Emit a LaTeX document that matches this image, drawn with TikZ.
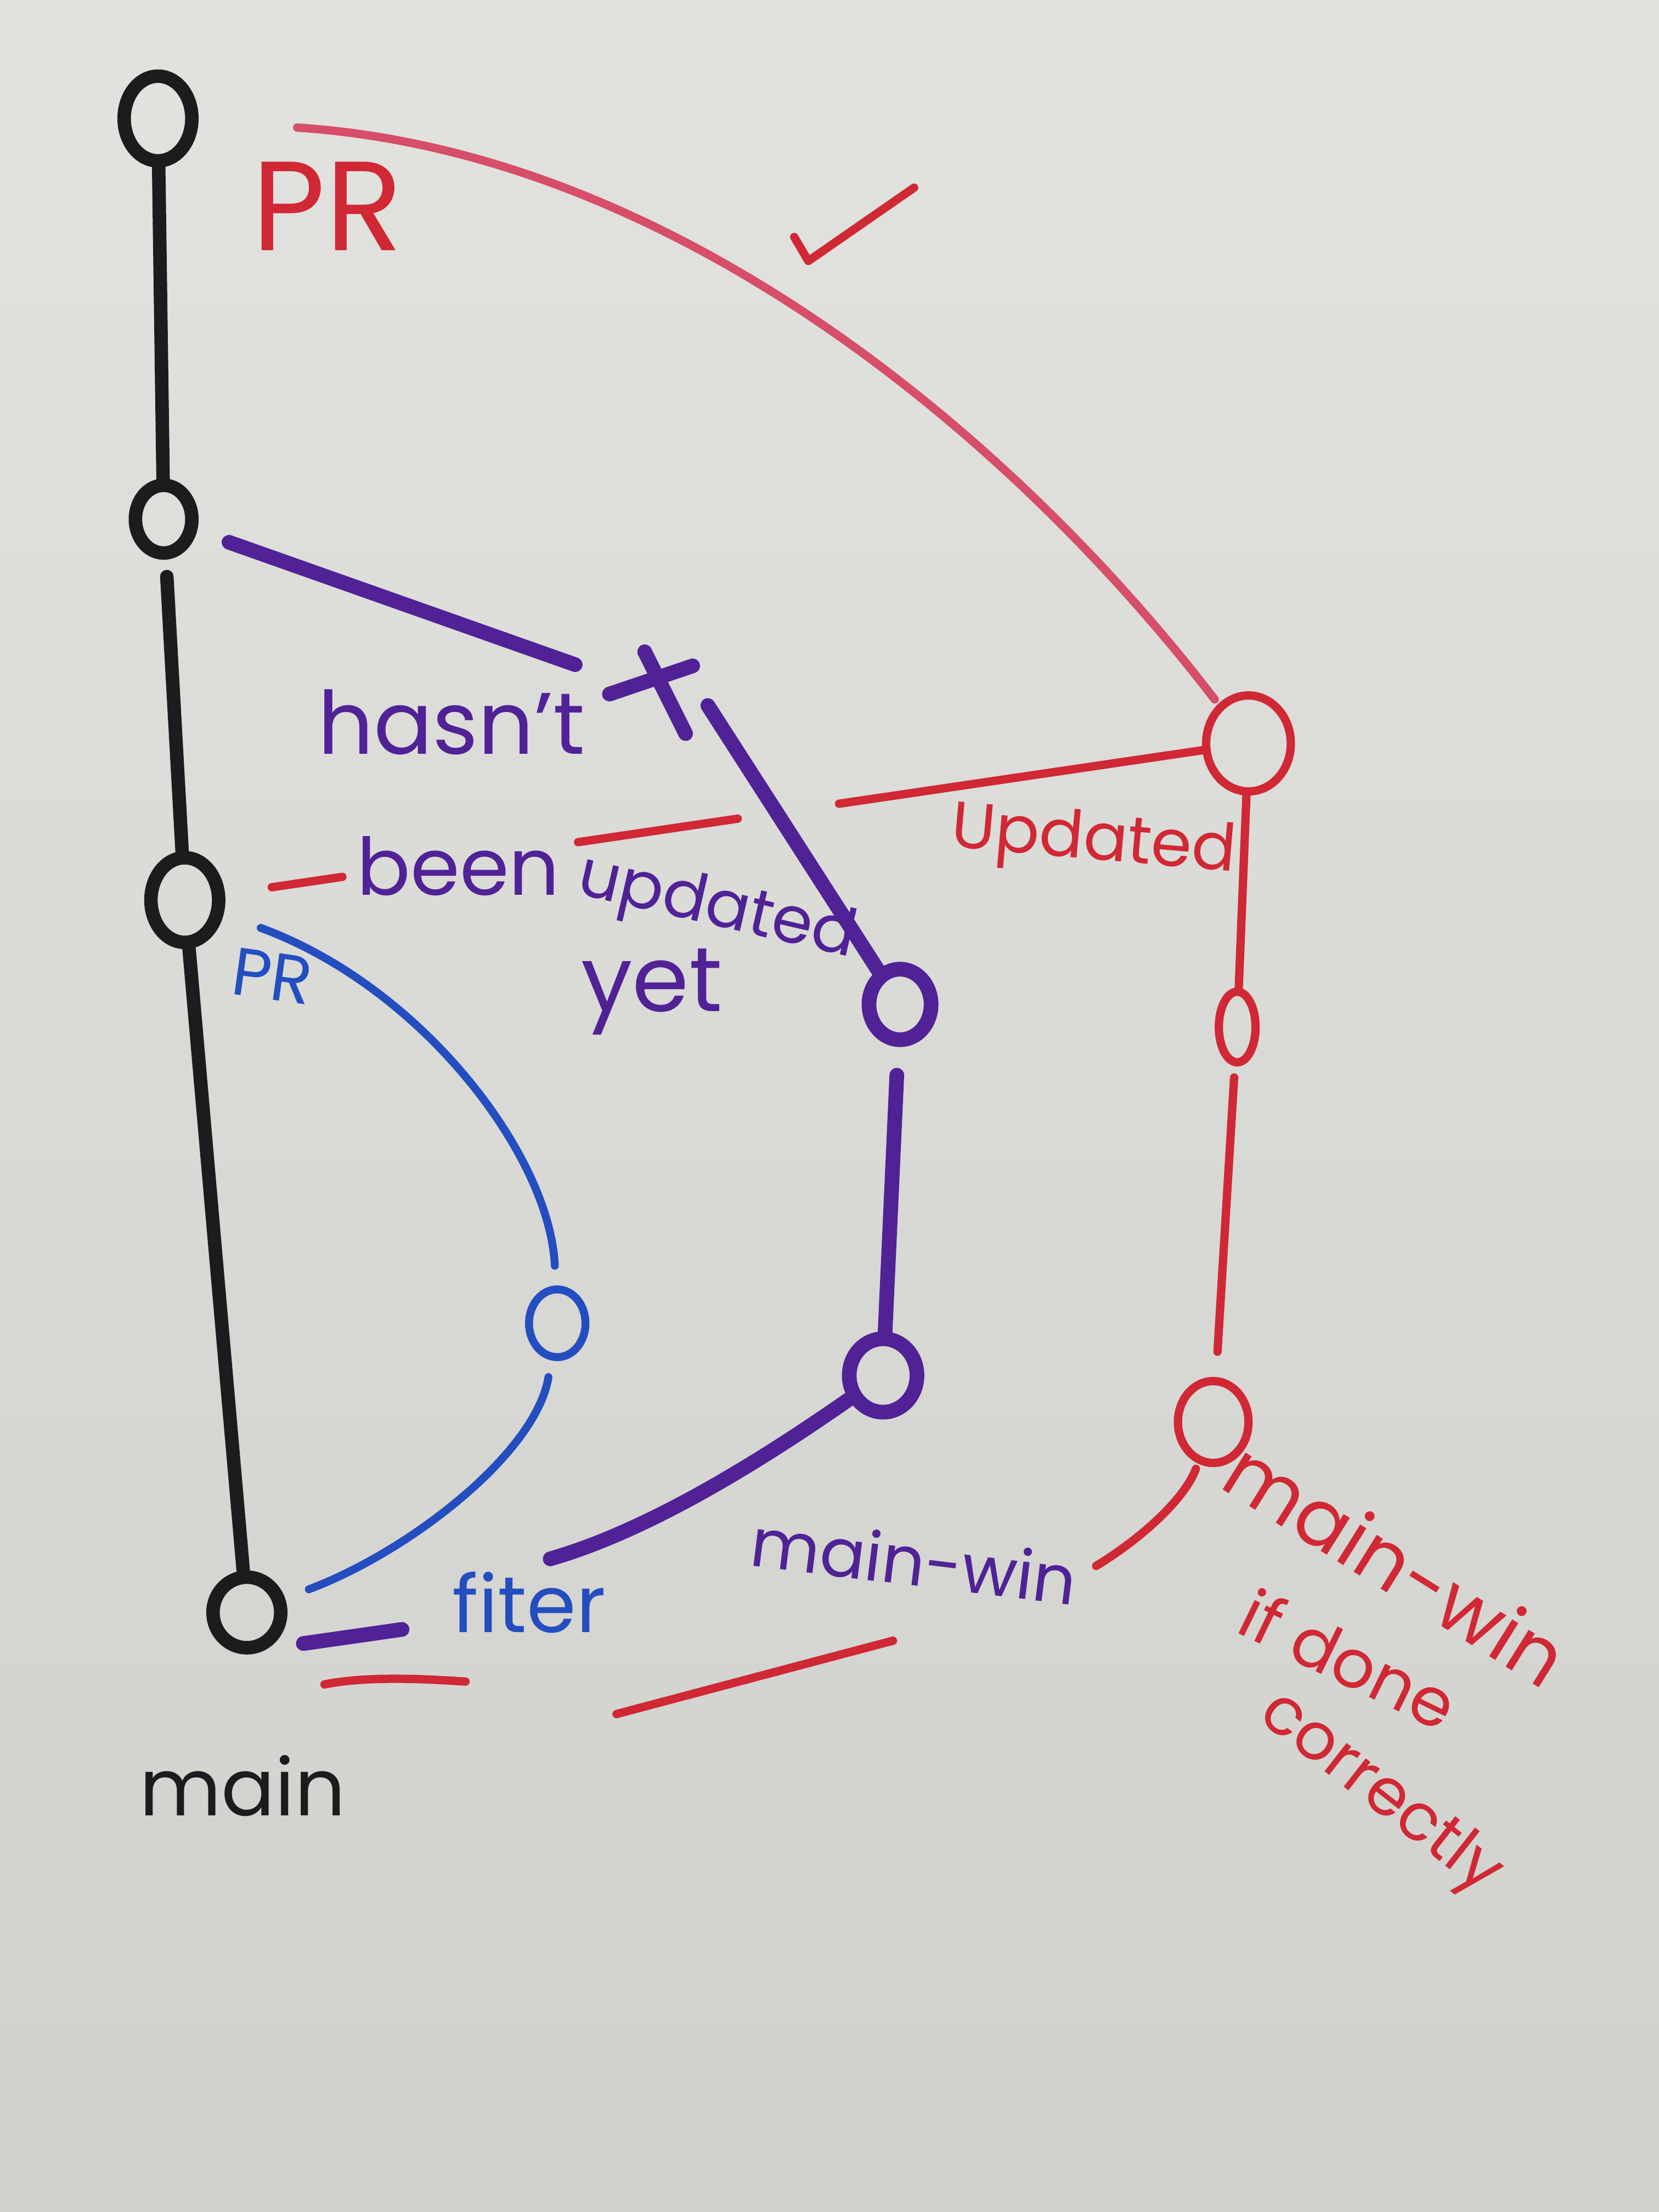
\documentclass[tikz,border=0pt]{standalone}
\usepackage{fontspec}
\setmainfont{Poppins}
\usetikzlibrary{shapes.geometric}
\definecolor{boardtop}{RGB}{226,226,223}
\definecolor{boardbot}{RGB}{208,208,204}
\definecolor{mblack}{RGB}{28,28,30}
\definecolor{mred}{RGB}{208,40,52}
\definecolor{mpink}{RGB}{214,78,104}
\definecolor{mpurple}{RGB}{80,34,150}
\definecolor{mblue}{RGB}{36,78,192}
\begin{document}
\begin{tikzpicture}[x=0.025cm,y=-0.025cm,line cap=round,line join=round,
  commit/.style={ellipse,draw,inner sep=0pt},
  blk/.style={draw=mblack,line width=6.8pt},
  redl/.style={draw=mred,line width=4.2pt},
  pinkl/.style={draw=mpink,line width=4.2pt},
  purl/.style={draw=mpurple,line width=7.4pt},
  blul/.style={draw=mblue,line width=4pt},
  hand/.style={font=\fontsize{#1pt}{#1pt}\selectfont,inner sep=0pt}]
% board
\shade[top color=boardtop,bottom color=boardbot] (0,0) rectangle (1176,1568);
\useasboundingbox (0,0) rectangle (1176,1568);

% black commits (main)
\node[commit,blk,minimum width=1.2cm,minimum height=1.5cm] (n1) at (112,84) {};
\node[commit,blk,minimum width=1.0cm,minimum height=1.2cm] (n2) at (116,368) {};
\node[commit,blk,minimum width=1.2cm,minimum height=1.5cm] (n3) at (131,638) {};
\node[commit,blk,minimum width=1.2cm,minimum height=1.25cm] (n4) at (175,1143) {};
\draw[blk] (n1) -- (n2);
\draw[blk,shorten <=0.3cm] (n2) -- (n3);
\draw[blk] (n3) -- (n4);

% red commits
\node[commit,redl,minimum width=1.5cm,minimum height=1.7cm] (r1) at (885,527) {};
\node[commit,redl,minimum width=0.65cm,minimum height=1.25cm] (r2) at (877,728) {};
\node[commit,redl,minimum width=1.25cm,minimum height=1.45cm] (r3) at (860,1008) {};
\draw[redl] (r1) -- (r2);
\draw[redl,shorten <=0.2cm,shorten >=0.45cm] (r2) -- (r3);

% purple commits
\node[commit,purl,minimum width=1.1cm,minimum height=1.25cm] (p1) at (638,712) {};
\node[commit,purl,minimum width=1.2cm,minimum height=1.3cm] (p2) at (626,975) {};
\node[draw=none,minimum size=1.75cm,inner sep=0pt] (xm) at (460,490) {};
\draw[purl] (432,492) -- (491,472);
\draw[purl] (457,462) -- (486,520);
\draw[purl,shorten <=0.6cm,shorten >=0.45cm] (n2) -- (xm.160);
\draw[purl,shorten <=0.3cm] (xm.east) -- (p1);
\draw[purl,shorten <=0.5cm] (p1) -- (p2);
\coordinate (pm1) at (390,1105);
\coordinate (pm2) at (285,1155);
\coordinate (pm3) at (215,1165);
\draw[purl] (p2) .. controls (540,1035) and (460,1085) .. (pm1);
\draw[purl] (pm2) -- (pm3);

% blue commit
\node[commit,blul,minimum width=1.0cm,minimum height=1.2cm] (b1) at (395,938) {};
\draw[blul,shorten <=0.7cm,shorten >=0.35cm] (n3) .. controls (300,700) and (390,820) .. (b1);
\draw[blul,shorten <=0.3cm,shorten >=0.45cm] (b1) .. controls (380,1030) and (290,1100) .. (n4);

% red connectors
\draw[pinkl,shorten <=1.75cm,shorten >=0.1cm] (n1) .. controls (480,108) and (720,312) .. (r1);
\draw[redl,shorten <=0.835cm,dash pattern=on 1.265cm off 4.22cm on 2.86cm off 1.815cm on 6.7cm off 2cm] (n3) -- (r1);
\coordinate (rm1) at (777,1110);
\coordinate (rm2) at (633,1163);
\coordinate (rm3) at (437,1215);
\coordinate (rm4) at (330,1192);
\coordinate (rm5) at (230,1194);
\draw[redl,shorten <=0.1cm] (r3) .. controls (840,1062) and (810,1090) .. (rm1);
\draw[redl] (rm2) -- (rm3);
\draw[redl] (rm4) .. controls (300,1190) and (260,1188) .. (rm5);

% check mark
\draw[redl] (563,168) -- (573,185) -- (648,133);

% labels
\node[hand=64,text=mred] (lpr) at (232,146) {PR};
\node[hand=44,text=mpurple] (lhasnt) at (320,512) {hasn't};
\node[hand=40,text=mpurple] (lbeen) at (325,614) {been};
\node[hand=33,text=mpurple,rotate=-13] (lupd) at (508,645) {updated};
\node[hand=46,text=mpurple] (lyet) at (462,703) {yet};
\node[hand=33,text=mred,rotate=-5] (lupdated) at (775,598) {Updated};
\node[hand=34,text=mblue,rotate=-8] (lpr2) at (193,692) {PR};
\node[hand=40,text=mblue] (lfiter) at (375,1136) {fiter};
\node[hand=34,text=mpurple,rotate=-7] (lmw) at (648,1106) {main-win};
\node[hand=40,text=mred,rotate=-32] (lmw2) at (990,1108) {main-win};
\node[hand=34,text=mred,rotate=-26] (lif) at (956,1176) {if done};
\node[hand=33,text=mred,rotate=-38] (lcor) at (978,1272) {correctly};
\node[hand=40,text=mblack] (lmain) at (172,1266) {main};
\end{tikzpicture}
\end{document}
